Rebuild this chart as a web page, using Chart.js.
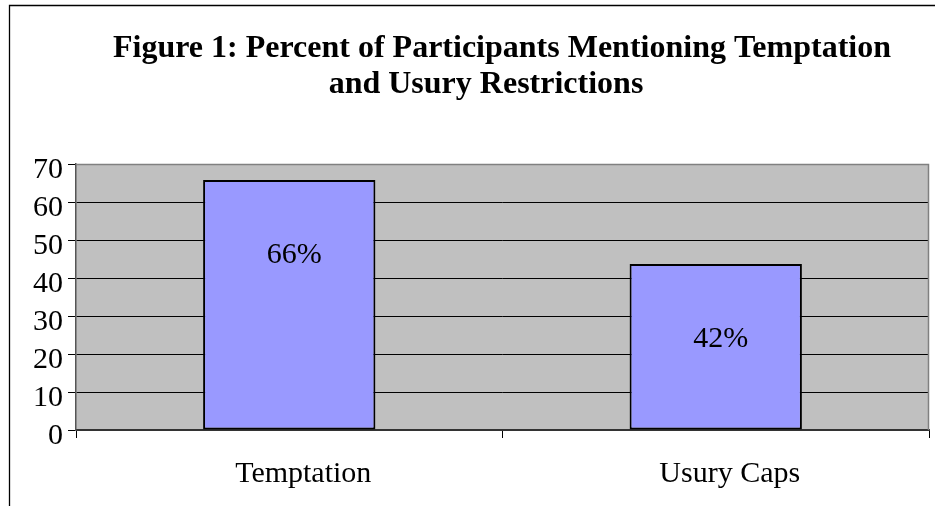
<!DOCTYPE html>
<html>
<head>
<meta charset="utf-8">
<script src="https://cdn.jsdelivr.net/npm/chart.js@4.4.1/dist/chart.umd.min.js"></script>
<style>
  html, body { margin: 0; padding: 0; background: #ffffff; }
  #wrap { width: 935px; height: 506px; position: relative; }
</style>
</head>
<body>
<div id="wrap"><canvas id="c" width="935" height="506"></canvas></div>
<script>
const titleLines = ['Figure 1: Percent of Participants Mentioning Temptation', 'and Usury Restrictions'];
const categories = ['Temptation', 'Usury Caps'];
const values = [65.8, 43.7];
const valueLabels = ['66%', '42%'];
const yTicks = [0, 10, 20, 30, 40, 50, 60, 70];

const SERIF = "'Liberation Serif', 'Times New Roman', serif";

const framePlugin = {
  id: 'frame',
  beforeDraw(chart) {
    const ctx = chart.ctx;
    const a = chart.chartArea;
    ctx.save();
    ctx.fillStyle = '#ffffff';
    ctx.fillRect(0, 0, chart.width, chart.height);
    ctx.strokeStyle = '#000000';
    ctx.lineWidth = 1.3;
    ctx.beginPath();
    ctx.moveTo(9.5, chart.height);
    ctx.lineTo(9.5, 5.5);
    ctx.lineTo(chart.width, 5.5);
    ctx.stroke();
    ctx.fillStyle = '#C0C0C0';
    ctx.fillRect(a.left, a.top, a.right - a.left, a.bottom - a.top);
    ctx.restore();
  },
  afterDatasetsDraw(chart) {
    const ctx = chart.ctx;
    const a = chart.chartArea;
    ctx.save();
    ctx.strokeStyle = '#808080';
    ctx.lineWidth = 1.5;
    ctx.beginPath();
    ctx.moveTo(a.left, a.top + 0.5);
    ctx.lineTo(a.right - 0.5, a.top + 0.5);
    ctx.lineTo(a.right - 0.5, a.bottom);
    ctx.stroke();
    const meta = chart.getDatasetMeta(0);
    ctx.fillStyle = '#000000';
    ctx.font = '30px ' + SERIF;
    ctx.textAlign = 'center';
    ctx.textBaseline = 'middle';
    meta.data.forEach((bar, i) => {
      ctx.fillText(valueLabels[i], bar.x + 5, bar.y + 75);
    });
    ctx.font = 'bold 32px ' + SERIF;
    ctx.textBaseline = 'alphabetic';
    ctx.fillText(titleLines[0], 502, 57);
    ctx.fillText(titleLines[1], 486, 93);
    ctx.restore();
  }
};

new Chart(document.getElementById('c'), {
  type: 'bar',
  data: {
    labels: categories,
    datasets: [{
      data: values,
      backgroundColor: '#9999FF',
      borderColor: '#000000',
      borderWidth: 2,
      borderSkipped: false,
      barPercentage: 0.404,
      categoryPercentage: 1.0
    }]
  },
  options: {
    responsive: false,
    animation: false,
    devicePixelRatio: 1,
    layout: { padding: { left: 0, top: 164, right: 6, bottom: 0 } },
    plugins: {
      legend: { display: false },
      title: { display: false },
      tooltip: { enabled: false }
    },
    scales: {
      x: {
        offset: true,
        afterFit(scale) { scale.height = 76; },
        grid: {
          offset: true,
          drawOnChartArea: false,
          drawTicks: true,
          tickLength: 8,
          tickColor: '#000000',
          tickWidth: 1
        },
        border: { display: true, color: '#333333', width: 2 },
        ticks: {
          color: '#000000',
          font: { family: SERIF, size: 30 },
          padding: 18,
          labelOffset: 14,
          maxRotation: 0,
          autoSkip: false
        }
      },
      y: {
        min: 0,
        max: 70,
        afterFit(scale) { scale.width = 76; },
        afterBuildTicks(scale) { scale.ticks = yTicks.map(v => ({ value: v })); },
        grid: {
          color: '#000000',
          lineWidth: 1,
          drawTicks: true,
          tickLength: 8,
          tickColor: '#000000'
        },
        border: { display: true, color: '#555555', width: 1.5 },
        ticks: {
          color: '#000000',
          font: { family: SERIF, size: 30 },
          padding: 5,
          labelOffset: 6,
          autoSkip: false
        }
      }
    }
  },
  plugins: [framePlugin]
});
</script>
</body>
</html>
